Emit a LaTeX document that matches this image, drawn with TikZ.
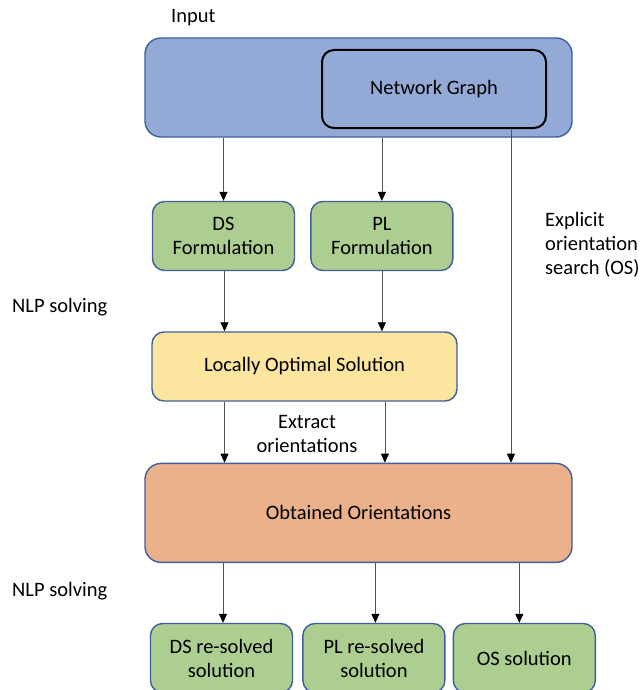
\documentclass[tikz,border=0pt]{standalone}
\usepackage{fontspec}
\setmainfont{Carlito}
\usepackage{tikz}
\usetikzlibrary{arrows.meta,positioning}

\definecolor{boxborder}{HTML}{3F5F9C}
\definecolor{inputblue}{HTML}{93AAD7}
\definecolor{formgreen}{HTML}{ADCE91}
\definecolor{localyellow}{HTML}{FBE59F}
\definecolor{orientorange}{HTML}{EBB18B}
\definecolor{linegray}{HTML}{555555}

\begin{document}
\begin{tikzpicture}[x=1pt, y=-1pt,
		font=\fontsize{20.5}{24}\selectfont,
		block/.style={rectangle, draw=boxborder, line width=1.4pt, rounded corners=12pt, align=center, inner sep=0pt},
		widebox/.style={block, minimum width=427pt, minimum height=99pt, rounded corners=16pt},
		smallbox/.style={block, fill=formgreen, minimum width=142pt, minimum height=69pt},
		line/.style={draw=linegray, line width=0.8pt, -{Triangle[width=8pt,length=9pt,color=black]}},
		note/.style={align=left, inner sep=0pt}]
		\useasboundingbox (0,0) rectangle (641,690);

		% Nodes
		\node [widebox, fill=inputblue] (input) at (358.5,87.5) {};
		\node [block, draw=black, line width=2pt, minimum width=224pt, minimum height=78pt] (graph) at (434,89) {Network Graph};
		\node [smallbox] (dsform) at (223.5,236) {DS\\Formulation};
		\node [smallbox, right=15pt of dsform] (plform) {PL\\Formulation};
		\node [block, fill=localyellow, minimum width=305pt, minimum height=69pt] (local) at (304.5,366.5) {Locally Optimal Solution};
		\node [widebox, fill=orientorange, below=325pt of input] (obtained) {Obtained Orientations};
		\node [smallbox] (dsres) at (221.5,658) {DS re-solved\\solution};
		\node [smallbox, right=9pt of dsres] (plres) {PL re-solved\\solution};
		\node [smallbox, right=7pt of plres] (osres) {OS solution};

		% Labels
		\node [note, anchor=west] (inputlbl) at (171,18) {Input};
		\node [note, anchor=west] (nlpa) at (12,307) {NLP solving};
		\node [note, anchor=west] (nlpb) at (12,591) {NLP solving};
		\node [note, anchor=west] (oslbl) at (545,245) {Explicit\\orientation\\search (OS)};
		\node [note, align=center] (extract) at (307,434) {Extract\\orientations};

		% Paths
		\path [line] (input.south -| dsform.north) -- (dsform.north);
		\path [line] (input.south -| plform.north) -- (plform.north);
		\path [line] ([xshift=-36pt]graph.south east) -- ([xshift=-36pt]graph.south east |- obtained.north);
		\path [line] ([xshift=1pt]dsform.south) -- ([xshift=1pt]dsform.south |- local.north);
		\path [line] (plform.south) -- (plform.south |- local.north);
		\path [line] ([xshift=1pt]local.south -| dsform) -- ([xshift=1pt]obtained.north -| dsform);
		\path [line] ([xshift=3pt]local.south -| plform) -- ([xshift=3pt]obtained.north -| plform);
		\path [line] ([xshift=1.5pt]obtained.south -| dsres) -- ([xshift=1.5pt]dsres.north);
		\path [line] ([xshift=1.5pt]obtained.south -| plres) -- ([xshift=1.5pt]plres.north);
		\path [line] ([xshift=-5pt]obtained.south -| osres) -- ([xshift=-5pt]osres.north);
	\end{tikzpicture}
\end{document}
